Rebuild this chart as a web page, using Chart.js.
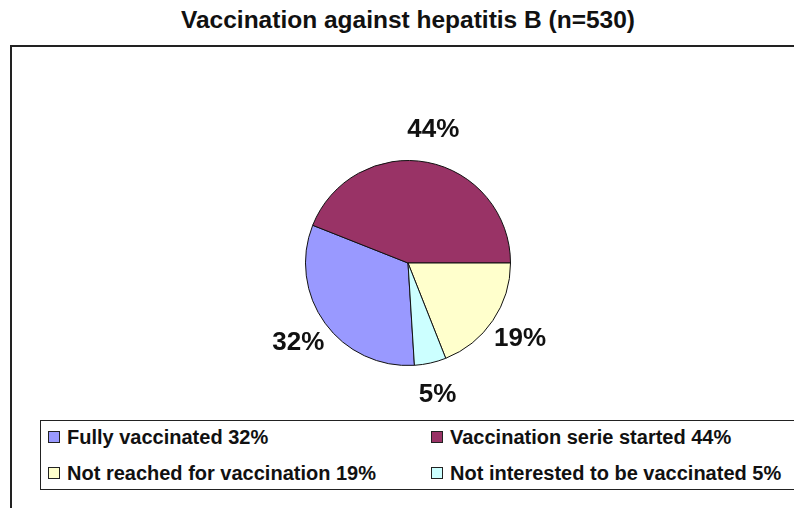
<!DOCTYPE html>
<html>
<head>
<meta charset="utf-8">
<script src="https://cdn.jsdelivr.net/npm/chart.js@4.4.0/dist/chart.umd.min.js"></script>
<style>
  body { margin: 0; background: #fff; width: 794px; height: 508px; overflow: hidden; position: relative; font-family: "Liberation Sans", Arial, sans-serif; }
  #title { position: absolute; left: 0; width: 816px; top: 6px; text-align: center; font-size: 24.5px; font-weight: bold; color: #111; }
  #frame { position: absolute; left: 10px; top: 45px; width: 800px; height: 480px; border: 2px solid #222; }
  #wrap { position: absolute; left: 0; top: 0; width: 794px; height: 508px; }
  #legend { position: absolute; left: 40px; top: 420px; width: 780px; height: 68px; border: 1px solid #222; background: #fff; }
  .item { position: absolute; font-size: 20px; font-weight: bold; color: #111; white-space: nowrap; }
  .box { display: inline-block; width: 10px; height: 10px; border: 1px solid #222; margin-right: 7px; vertical-align: 1px; }
</style>
</head>
<body>
<div id="title">Vaccination against hepatitis B (n=530)</div>
<div id="frame"></div>
<div id="wrap"><canvas id="grafico" width="794" height="508"></canvas></div>
<div id="legend"></div>
<script>
const categorias = ['Fully vaccinated', 'Vaccination serie started', 'Not reached for vaccination', 'Not interested to be vaccinated']
const valores = [32, 44, 19, 5]
const rotulos = ['32%', '44%', '19%', '5%']
const cores = ['#9999FF', '#993366', '#FFFFCC', '#CCFFFF']

// escreve as porcentagens fora de cada fatia
const rotulosFora = {
  id: 'rotulosFora',
  afterDatasetsDraw(chart) {
    const ctx = chart.ctx
    const meta = chart.getDatasetMeta(0)
    ctx.save()
    ctx.font = 'bold 26px "Liberation Sans", Arial, sans-serif'
    ctx.fillStyle = '#111'
    ctx.textAlign = 'center'
    ctx.textBaseline = 'middle'
    meta.data.forEach((arc, i) => {
      const meio = (arc.startAngle + arc.endAngle) / 2
      const r = arc.outerRadius + 33
      ctx.fillText(rotulos[i], arc.x + Math.cos(meio) * r, arc.y + Math.sin(meio) * r)
    })
    ctx.restore()
  }
}

var ctx = document.getElementById('grafico')
var chartGraph = new Chart(ctx, {
  type: 'pie',
  data: {
    labels: categorias,
    datasets: [{
      data: valores,
      backgroundColor: cores,
      borderColor: '#111',
      borderWidth: 1
    }]
  },
  options: {
    responsive: false,
    animation: false,
    rotation: 176.4,
    layout: { padding: { left: 305, right: 283, top: 160, bottom: 142 } },
    plugins: { legend: { display: false }, tooltip: { enabled: false } }
  },
  plugins: [rotulosFora]
})

// legenda em duas colunas
const legenda = document.getElementById('legend')
const colunas = [7, 390]
const linhas = [5, 41]
categorias.forEach((nome, i) => {
  const d = document.createElement('div')
  d.className = 'item'
  d.style.left = colunas[i % 2] + 'px'
  d.style.top = linhas[Math.floor(i / 2)] + 'px'
  d.innerHTML = '<span class="box" style="background:' + cores[i] + '"></span>' + nome + ' ' + rotulos[i]
  legenda.appendChild(d)
})
</script>
</body>
</html>
